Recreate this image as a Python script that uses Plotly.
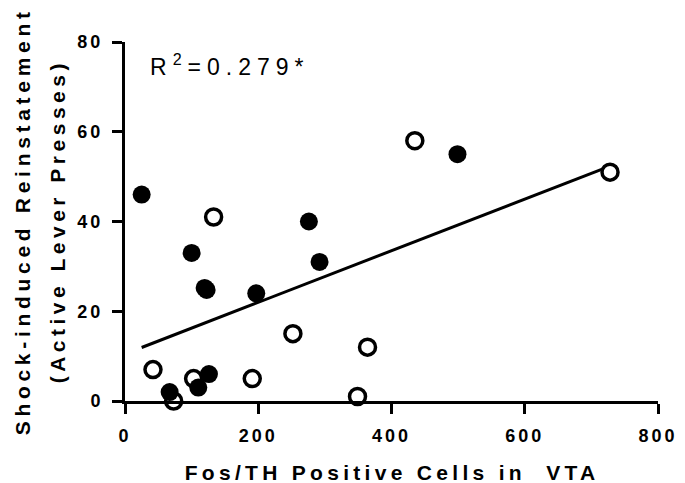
import numpy as np
import plotly.graph_objects as go

# Fos/TH-positive cell counts (x) and active lever presses (y)
filled_x = [25, 100, 119.5, 122.5, 197, 276, 292, 126, 110, 67, 499]
filled_y = [46, 33, 25.2, 24.75, 24, 40, 31, 6, 3, 2, 55]
open_x = [42, 73, 103, 191, 252, 364, 349, 133, 435, 728]
open_y = [7, 0, 5, 5, 15, 12, 1, 41, 58, 51]

x_ticks = [0, 200, 400, 600, 800]
y_ticks = [0, 20, 40, 60, 80]

x_title = "Fos/TH Positive Cells in\u00a0 VTA"
y_title_1 = "Shock-induced Reinstatement"
y_title_2 = "(Active Lever Presses)"
r2_label = "R<sup>2</sup>=0.279*"

# Linear regression over all animals
all_x = np.array(filled_x + open_x, dtype=float)
all_y = np.array(filled_y + open_y, dtype=float)
slope, intercept = np.polyfit(all_x, all_y, 1)
fit_x = np.array([all_x.min(), all_x.max()])
fit_y = slope * fit_x + intercept

FONT = "Liberation Sans, Arial, sans-serif"

fig = go.Figure()
fig.add_trace(go.Scatter(
    x=fit_x, y=fit_y, mode="lines",
    line=dict(color="black", width=3), cliponaxis=False, showlegend=False,
))
fig.add_trace(go.Scatter(
    x=open_x, y=open_y, mode="markers", cliponaxis=False, showlegend=False,
    marker=dict(symbol="circle", size=16, color="white",
                line=dict(color="black", width=3.5)),
))
fig.add_trace(go.Scatter(
    x=filled_x, y=filled_y, mode="markers", cliponaxis=False, showlegend=False,
    marker=dict(symbol="circle", size=18, color="black", line=dict(width=0)),
))

axis_common = dict(
    showline=True, linewidth=3, linecolor="black",
    ticks="outside", ticklen=10, tickwidth=3, tickcolor="black",
    showgrid=False, zeroline=False,
    tickfont=dict(family=FONT, size=18, color="black", weight="bold"),
)
fig.update_xaxes(range=[0, 800], tickvals=x_ticks, ticklabelstandoff=6, **axis_common)
fig.update_yaxes(range=[0, 80], tickvals=y_ticks, ticklabelstandoff=5, **axis_common)

title_font = dict(family=FONT, size=21, color="black", weight="bold")
fig.update_layout(
    width=685, height=483,
    margin=dict(l=125, r=20, t=42, b=82),
    plot_bgcolor="white", paper_bgcolor="white",
    annotations=[
        dict(text=y_title_1, textangle=-90, xref="paper", yref="paper",
             x=-0.1926, y=0.5, xanchor="center", yanchor="middle",
             showarrow=False, font=title_font),
        dict(text=y_title_2, textangle=-90, xref="paper", yref="paper",
             x=-0.1269, y=0.5, xanchor="center", yanchor="middle",
             showarrow=False, font=title_font),
        dict(text=x_title, xref="paper", yref="paper",
             x=0.5, y=-0.1996, xanchor="center", yanchor="middle",
             showarrow=False, font=title_font),
        dict(text=r2_label, xref="paper", yref="paper", align="left",
             x=0.0426, y=0.935, xanchor="left", yanchor="middle",
             showarrow=False, font=dict(family=FONT, size=23, color="black")),
    ],
)

# Wide letter spacing on ticks, titles and the R^2 label
spacing_js = """
var gd = document.getElementById('{plot_id}');
gd.querySelectorAll('.xtick text, .ytick text').forEach(function(t){ t.style.letterSpacing = '3px'; });
var sp = ['4.7px', '4.5px', '4.3px', '6px'];
gd.querySelectorAll('.annotation').forEach(function(g){
  var i = parseInt(g.getAttribute('data-index'));
  var t = g.querySelector('text');
  if (t && sp[i]) { t.style.letterSpacing = sp[i]; }
});
"""

fig.write_html("out.html", post_script=spacing_js)
